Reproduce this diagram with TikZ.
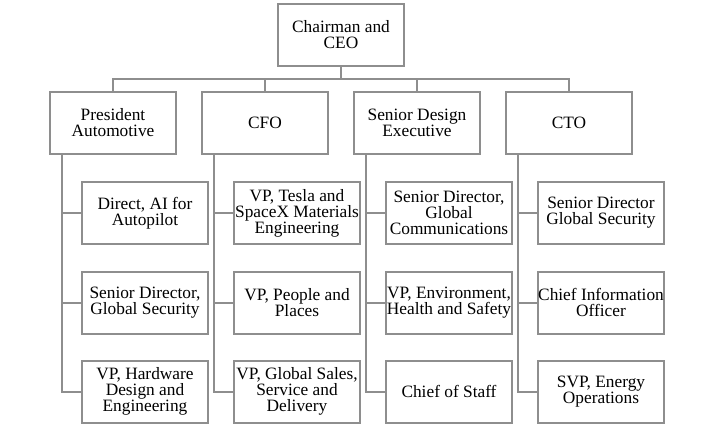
\documentclass[tikz,border=0pt]{standalone}
\usepackage{fontspec}
\setmainfont{Liberation Serif}
\begin{document}
\begin{tikzpicture}[x=0.75pt,y=-0.75pt,
  box/.style={draw=linegray,line width=1.5pt,fill=white,minimum width=94.5pt,minimum height=46.5pt,inner sep=0pt,align=center,font=\fontsize{13}{12}\selectfont},
  conn/.style={draw=linegray,line width=1.5pt}]
\definecolor{linegray}{HTML}{8E8E8E}
\useasboundingbox[fill=white] (0,0) rectangle (710,440);
% top
\node[box] (ceo) at (341,34.5) {Chairman and\\CEO};
% level 1
\node[box] (pa) at (113,123) {President\\Automotive};
\node[box] (cfo) at (265,123) {CFO};
\node[box] (sde) at (417,123) {Senior Design\\Executive};
\node[box] (cto) at (569,123) {CTO};
% children
\node[box] (a1) at (145,213) {Direct, AI for\\Autopilot};
\node[box] (a2) at (145,302.5) {Senior Director,\\Global Security};
\node[box] (a3) at (145,391.5) {VP, Hardware\\Design and\\Engineering};
\node[box] (b1) at (297,213) {VP, Tesla and\\SpaceX Materials\\Engineering};
\node[box] (b2) at (297,302.5) {VP, People and\\Places};
\node[box] (b3) at (297,391.5) {VP, Global Sales,\\Service and\\Delivery};
\node[box] (c1) at (449,213) {Senior Director,\\Global\\Communications};
\node[box] (c2) at (449,302.5) {VP, Environment,\\Health and Safety};
\node[box] (c3) at (449,391.5) {Chief of Staff};
\node[box] (d1) at (601,213) {Senior Director\\Global Security};
\node[box] (d2) at (601,302.5) {Chief Information\\Officer};
\node[box] (d3) at (601,391.5) {SVP, Energy\\Operations};
% connectors top
\coordinate (bar) at (341,79);
\draw[conn] (ceo.south) -- (bar);
\draw[conn] (pa.north) |- (bar) -| (cto.north);
\draw[conn] (cfo.north) -- (cfo.north |- bar);
\draw[conn] (sde.north) -- (sde.north |- bar);
% connectors to children
\foreach \p/\c in {pa/a,cfo/b,sde/c,cto/d}{
  \coordinate (\p-t) at ([xshift=9.75pt]\p.south west);
  \draw[conn] (\p-t) |- (\c3.west);
  \draw[conn] (\p-t |- \c1.west) -- (\c1.west);
  \draw[conn] (\p-t |- \c2.west) -- (\c2.west);
}
\end{tikzpicture}
\end{document}
